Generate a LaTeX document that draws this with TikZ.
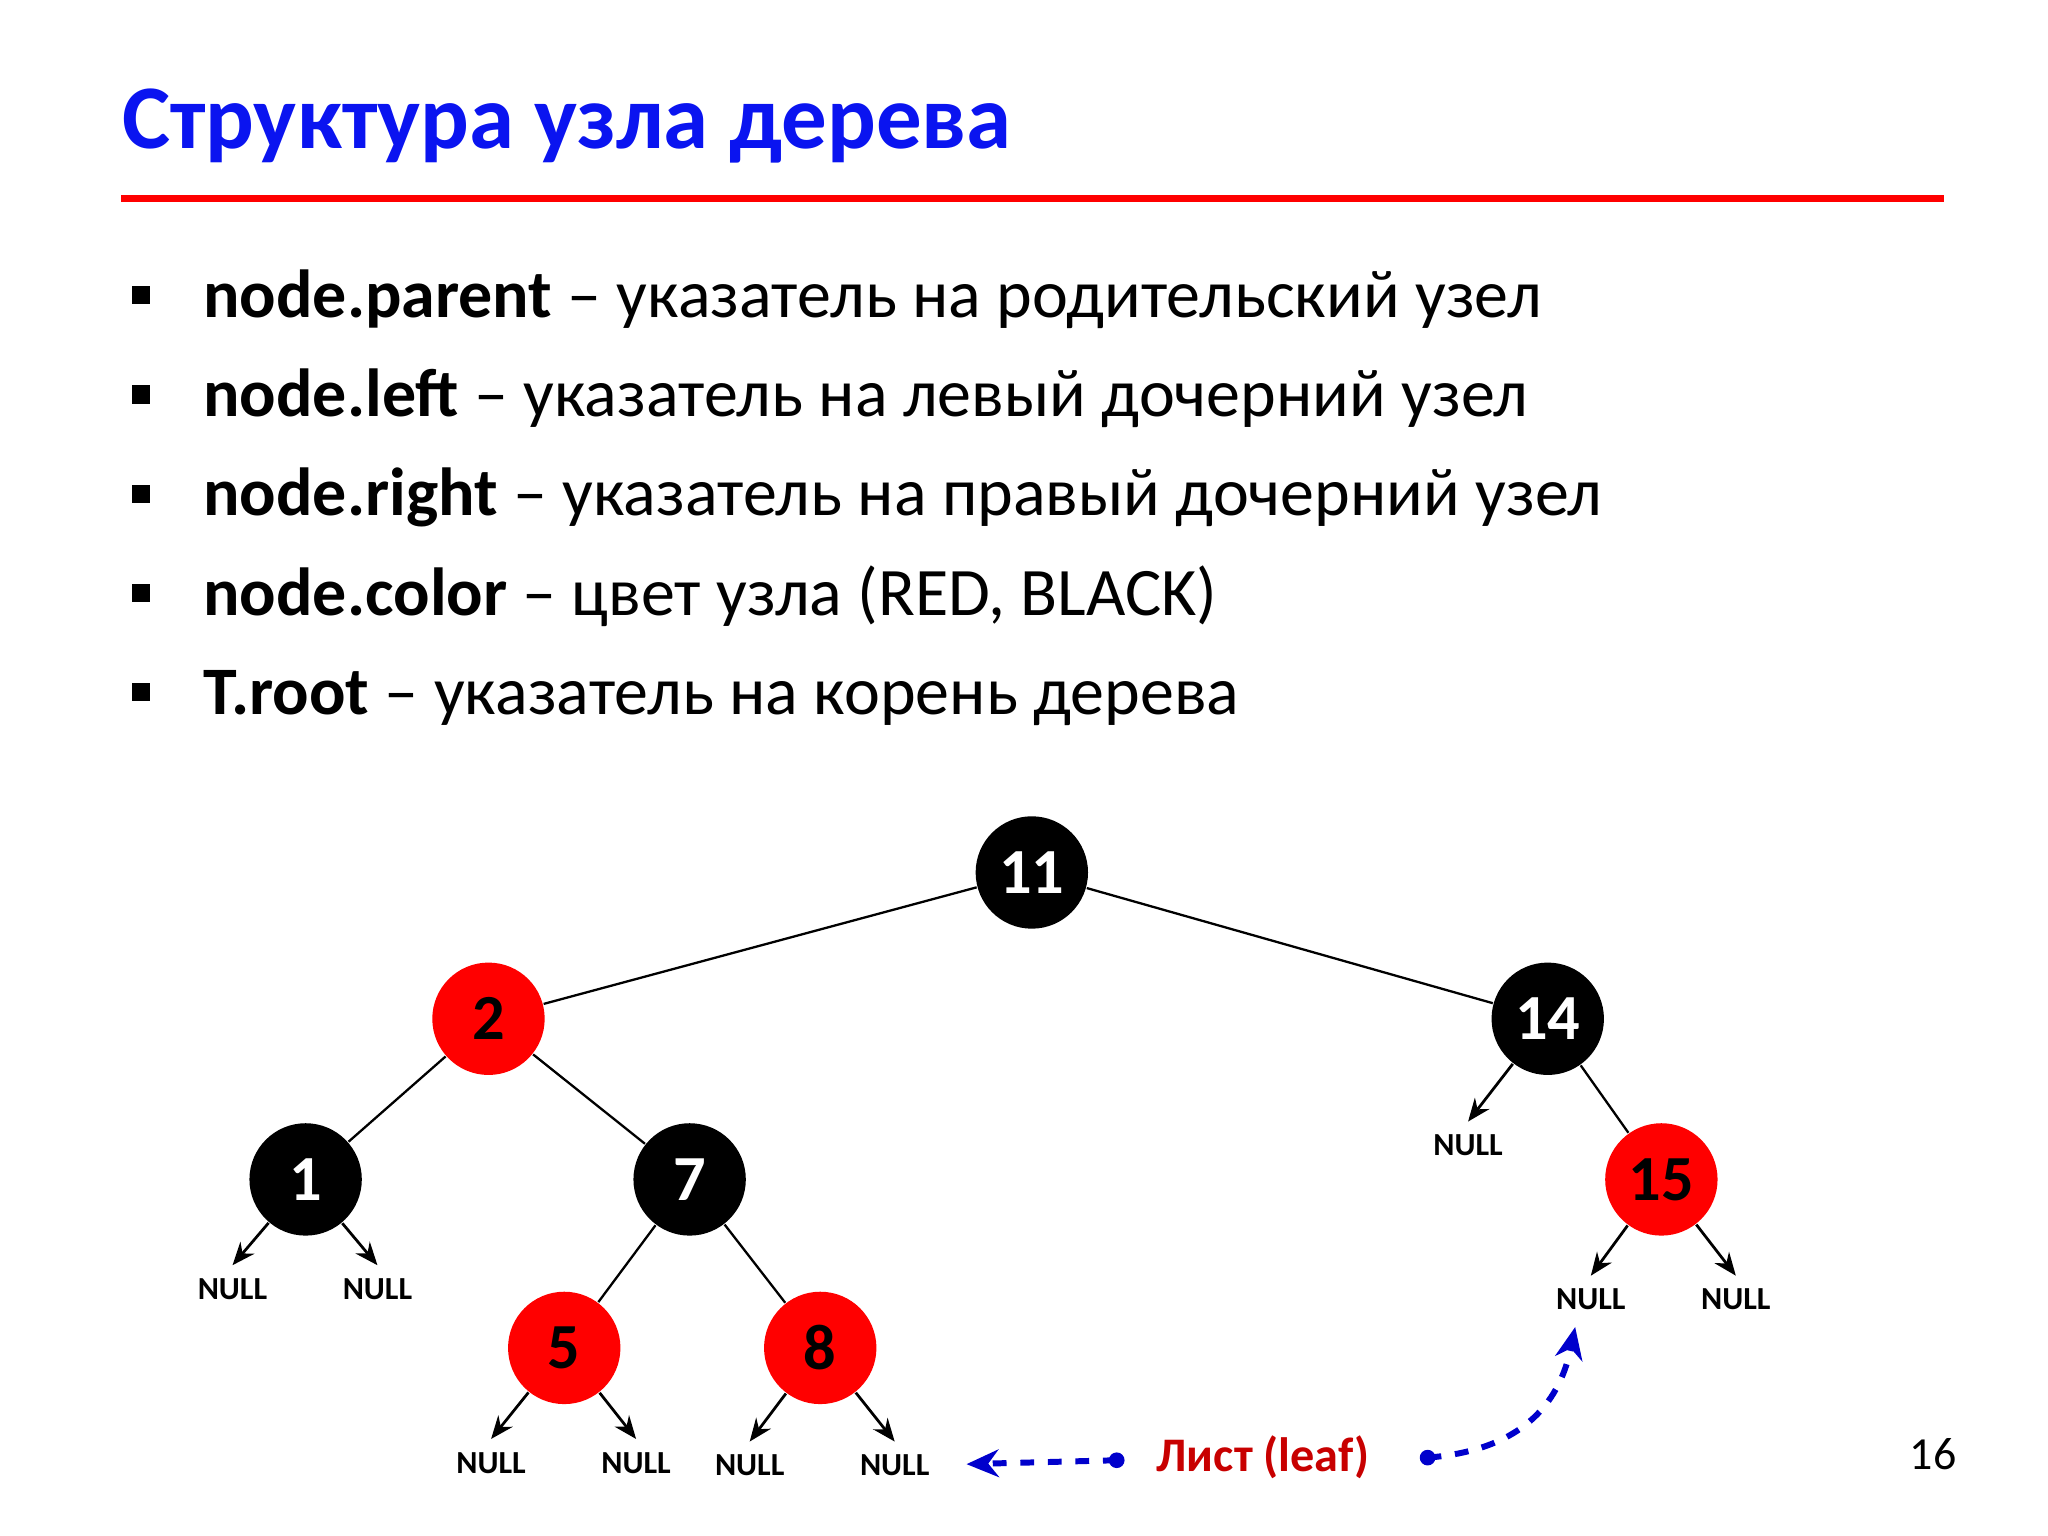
\documentclass[tikz,border=0pt]{standalone}
\usepackage{fontspec}
\setmainfont{Carlito}
\usetikzlibrary{arrows.meta}
\definecolor{tblue}{RGB}{10,20,240}
\definecolor{dred}{RGB}{200,0,0}
\tikzset{
 bn/.style={circle,fill=black,minimum size=0.86cm,inner sep=0pt,text=white,font=\fontsize{14}{14}\selectfont\bfseries},
 rn/.style={circle,fill=red,minimum size=0.86cm,inner sep=0pt,text=black,font=\fontsize{14}{14}\selectfont\bfseries},
 nl/.style={font=\fontsize{7}{7}\selectfont\bfseries,inner sep=1pt},
 ed/.style={line width=0.5pt},
 na/.style={line width=0.6pt,-{Stealth[length=5pt,width=4pt]}},
 bul/.style={anchor=base west,font=\fontsize{14.8}{15}\selectfont,inner sep=0pt},
 sq/.style={fill=black,minimum size=0.14cm,inner sep=0pt},
 lf/.style={blue!80!black,line width=1.3pt,dashed},
}
\begin{document}
\begin{tikzpicture}[x=0.01cm,y=-0.01cm]
\useasboundingbox (0,0) rectangle (1568,1176);
\node[anchor=base west,inner sep=0pt,text=tblue,font=\fontsize{19.8}{20}\selectfont\bfseries] (title) at (93,114) {Структура узла дерева};
\draw[red,line width=1.4pt] (93,152) -- (1488,152);
\foreach \y/\b/\t [count=\i] in {243/node.parent/указатель на родительский узел,319/node.left/указатель на левый дочерний узел,395/node.right/указатель на правый дочерний узел,471/node.color/{цвет узла (RED, BLACK)},547/T.root/указатель на корень дерева}{
 \node[sq] (s\i) at (108,{\y-17}) {};
 \node[bul] (b\i) at (155,\y) {\textbf{\b} – \t};
}
\node[bn] (n11) at (790,668) {11};
\node[rn] (n2) at (374,780) {2};
\node[bn] (n14) at (1185,780) {14};
\node[bn] (n1) at (234,903) {1};
\node[bn] (n7) at (528,903) {7};
\node[rn] (n15) at (1272,903) {15};
\node[rn] (n5) at (432,1032) {5};
\node[rn] (n8) at (628,1032) {8};
\draw[ed] (n11)--(n2) (n11)--(n14) (n2)--(n1) (n2)--(n7) (n14)--(n15) (n7)--(n5) (n7)--(n8);
\foreach \p/\x/\y/\k in {n1/178/987/a,n1/289/987/b,n5/376/1120/c,n5/487/1120/d,n8/574/1122/e,n8/685/1122/f,n14/1124/877/g,n15/1218/995/h,n15/1329/995/i}{
 \node[nl] (N\k) at (\x,\y) {NULL};
 \draw[na] (\p) -- ([yshift=0.06cm]N\k.north);
}
\node[anchor=base,font=\fontsize{10.5}{11}\selectfont\bfseries,text=dred] (leaf) at (967,1127) {Лист (leaf)};
\coordinate (d1) at (855,1118);
\coordinate (d2) at (1093,1116);
\coordinate (t1) at (740,1121);
\coordinate (t2) at (1206,1016);
\fill[blue!80!black] (d1) circle (0.06cm) (d2) circle (0.06cm);
\draw[lf,-{Stealth[length=7pt,width=6pt]}] (d1) -- (t1);
\draw[lf,-{Stealth[length=7pt,width=6pt]}] (d2) .. controls (1170,1110) and (1195,1070) .. (t2);
\node[anchor=base,font=\fontsize{10}{10}\selectfont] (pg) at (1480,1125) {16};
\end{tikzpicture}
\end{document}
